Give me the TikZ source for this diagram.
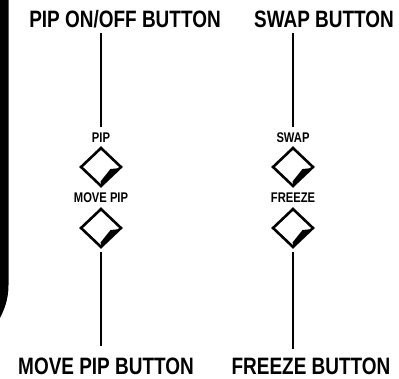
\documentclass[tikz,border=0pt]{standalone}
\usepackage{fontspec}
\newfontfamily\keyfont{Liberation Sans}[FakeStretch=0.8]
\usetikzlibrary{calc,shapes.geometric}

\begin{document}
\begin{tikzpicture}[x=1pt,y=-1pt,
  head/.style={font=\keyfont\bfseries\fontsize{23.7}{24}\selectfont,inner sep=0pt,text height=17pt,text depth=0pt},
  small/.style={font=\keyfont\bfseries\fontsize{14}{15}\selectfont,inner sep=0pt,text height=9.5pt,text depth=0pt},
  key/.style={diamond,draw,line width=2.6pt,minimum width=41pt,minimum height=39pt,inner sep=0pt}]
  \useasboundingbox (0,0) rectangle (399,379);
  \fill (0,0) -- (8.5,0) -- (8.5,285) .. controls (8.5,300) and (4,310) .. (0,318) -- cycle;
  \node[head] (pipbtn) at (125,19.5) {PIP ON/OFF BUTTON};
  \node[head] (swapbtn) at (324,19.5) {SWAP BUTTON};
  \node[head] (movebtn) at (106,365.5) {MOVE PIP BUTTON};
  \node[head] (freezebtn) at (311,365.5) {FREEZE BUTTON};
  \node[small] (piplbl) at (101,138) {PIP};
  \node[small] (swaplbl) at (293,138) {SWAP};
  \node[small] (movelbl) at (101,198) {MOVE PIP};
  \node[small] (freezelbl) at (293,198) {FREEZE};
  \node[key] (pipkey) at (101,167) {};
  \node[key] (movekey) at (101,228) {};
  \node[key] (swapkey) at (293,167) {};
  \node[key] (freezekey) at (293,228) {};
  \foreach \k in {pipkey,movekey,swapkey,freezekey}
    \fill ($(\k.center)+(20,1)$) -- ($(\k.center)+(0.5,18.5)$) -- ($(\k.center)+(-0.5,14.5)$) -- ($(\k.center)+(9.5,2)$) -- cycle;
  \draw[line width=1.8pt,shorten <=5pt,shorten >=6.5pt] (piplbl.north |- pipbtn.south) -- (piplbl.north);
  \draw[line width=1.8pt,shorten <=5pt,shorten >=6.5pt] (swaplbl.north |- swapbtn.south) -- (swaplbl.north);
  \draw[line width=1.8pt,shorten <=3pt,shorten >=11pt] (movekey.south) -- (movekey.south |- movebtn.north);
  \draw[line width=1.8pt,shorten <=3pt,shorten >=8pt] (freezekey.south) -- (freezekey.south |- freezebtn.north);
\end{tikzpicture}
\end{document}
